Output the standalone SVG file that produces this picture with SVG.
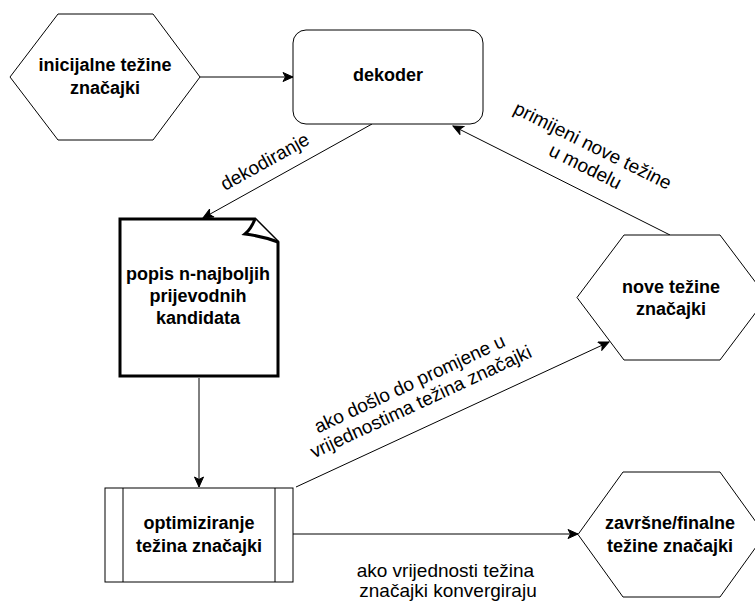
<svg xmlns="http://www.w3.org/2000/svg" width="755" height="604" viewBox="0 0 755 604">
  <style>
    .shape { fill: #fff; stroke: #000; stroke-width: 1; }
    .doc { fill: #fff; stroke: #000; stroke-width: 3; stroke-linejoin: miter; }
    .node-text { font-family: "Liberation Sans", Arial, Helvetica, sans-serif; font-size: 18px; font-weight: bold; fill: #000; text-anchor: middle; }
    .edge-text { font-family: "Liberation Sans", Arial, Helvetica, sans-serif; font-size: 19px; fill: #000; text-anchor: middle; }
    .edge { fill: none; stroke: #000; stroke-width: 1; marker-end: url(#arrow); }
    .edge-plain { fill: none; stroke: #000; stroke-width: 1; }
  </style>
  <defs>
    <marker id="arrow" markerUnits="userSpaceOnUse" markerWidth="12" markerHeight="10" refX="11" refY="5" orient="auto">
      <path d="M1,0.5 L11,5 L1,9.5 L3.5,5 Z" fill="#000" stroke="#000" stroke-width="1"/>
    </marker>
  </defs>

  <rect width="755" height="604" fill="#fff"/>

  <g id="connectors">
    <line class="edge" x1="200" y1="77" x2="293" y2="77"/>
    <line class="edge" x1="372" y1="124" x2="203" y2="218"/>
    <line class="edge" x1="670" y1="235" x2="453" y2="126"/>
    <line class="edge" x1="199" y1="378" x2="199" y2="487"/>
    <line class="edge" x1="296" y1="487" x2="609" y2="342"/>
    <line class="edge" x1="293" y1="534" x2="578" y2="534"/>
    <text class="edge-text" transform="translate(265,162) rotate(-29)" x="0" y="6">dekodiranje</text>
    <text class="edge-text" transform="translate(590,157) rotate(26.5)">
      <tspan x="0" y="-5">primijeni nove težine</tspan>
      <tspan x="0" y="17">u modelu</tspan>
    </text>
    <text class="edge-text" transform="translate(416.5,392.5) rotate(-25)">
      <tspan x="0" y="-4.5">ako došlo do promjene u</tspan>
      <tspan x="0" y="16.5">vrijednostima težina značajki</tspan>
    </text>
    <text class="edge-text">
      <tspan x="448" y="577">ako vrijednosti težina</tspan>
      <tspan x="448" y="597">značajki konvergiraju</tspan>
    </text>
  </g>

  <g id="inicijalne">
    <polygon class="shape" points="10,77 58,14 153,14 200,77 153,140 58,140"/>
    <text class="node-text"><tspan x="105" y="71">inicijalne težine</tspan><tspan x="105" y="94">značajki</tspan></text>
  </g>

  <g id="dekoder">
    <rect class="shape" x="293" y="30" width="190" height="94" rx="13" ry="13"/>
    <text class="node-text" x="388" y="81">dekoder</text>
  </g>

  <g id="popis">
    <path class="doc" d="M120,219 L255,219 L278,242 L278,376 L120,376 Z"/>
    <path class="doc" d="M255,219 Q251,229 245,234 Q262,236 278,242"/>
    <text class="node-text"><tspan x="198" y="280">popis n-najboljih</tspan><tspan x="198" y="302">prijevodnih</tspan><tspan x="198" y="324">kandidata</tspan></text>
  </g>

  <g id="optimiziranje">
    <rect class="shape" x="105" y="488" width="188" height="94"/>
    <line class="edge-plain" x1="123" y1="488" x2="123" y2="582"/>
    <line class="edge-plain" x1="275" y1="488" x2="275" y2="582"/>
    <text class="node-text"><tspan x="199" y="529">optimiziranje</tspan><tspan x="199" y="552">težina značajki</tspan></text>
  </g>

  <g id="nove">
    <polygon class="shape" points="577,297.5 624,235 720,235 767,297.5 720,360 624,360"/>
    <text class="node-text"><tspan x="671" y="293">nove težine</tspan><tspan x="671" y="315">značajki</tspan></text>
  </g>

  <g id="zavrsne">
    <polygon class="shape" points="578,534.5 623,472 720,472 765,534.5 720,597 623,597"/>
    <text class="node-text"><tspan x="670" y="529">završne/finalne</tspan><tspan x="670" y="552">težine značajki</tspan></text>
  </g>
</svg>
